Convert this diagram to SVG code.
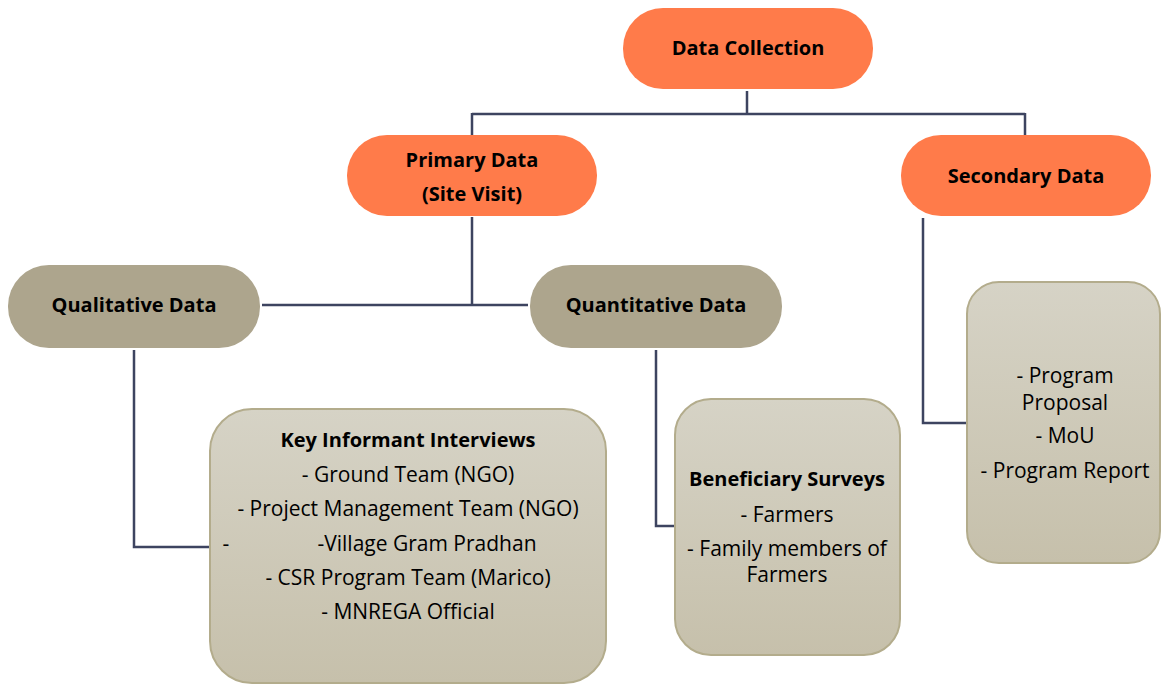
<svg xmlns="http://www.w3.org/2000/svg" width="1161" height="684" viewBox="0 0 1161 684">
<defs>
<linearGradient id="boxg" x1="0" y1="0" x2="0" y2="1">
<stop offset="0" stop-color="#D6D3C6"/>
<stop offset="1" stop-color="#C6C0AB"/>
</linearGradient>
<style>
text{font-family:"Open Sans",Lato,"Liberation Sans",sans-serif;font-size:21px;fill:#000;text-anchor:middle}
.b{font-weight:bold;font-size:20px}
.orange{fill:#FF7B4A}
.tan{fill:#ADA58D}
.box{fill:url(#boxg);stroke:#B3AC8C;stroke-width:2}
.conn{fill:none;stroke:#3D4460;stroke-width:2.5}
</style>
</defs>
<rect width="1161" height="684" fill="#fff"/>
<g id="connectors">
<path class="conn" d="M747 91V114M472 114H1025M472 113V135M1025 113V135"/>
<path class="conn" d="M472 217V305M262 305H528"/>
<path class="conn" d="M134 350V547H210"/>
<path class="conn" d="M656 350V526H675"/>
<path class="conn" d="M923 218V423H967"/>
</g>
<g id="data-collection">
<rect class="orange" x="623" y="8" width="250" height="81" rx="40"/>
<text class="b" x="748" y="55">Data Collection</text>
</g>
<g id="primary-data">
<rect class="orange" x="347" y="135" width="250" height="81" rx="40"/>
<text class="b" x="472" y="167">Primary Data</text>
<text class="b" x="472" y="201">(Site Visit)</text>
</g>
<g id="secondary-data">
<rect class="orange" x="901" y="135" width="250" height="81" rx="40"/>
<text class="b" x="1026" y="183">Secondary Data</text>
</g>
<g id="qualitative-data">
<rect class="tan" x="8" y="265" width="252" height="83" rx="41"/>
<text class="b" x="134" y="312">Qualitative Data</text>
</g>
<g id="quantitative-data">
<rect class="tan" x="530" y="265" width="252" height="83" rx="41"/>
<text class="b" x="656" y="312">Quantitative Data</text>
</g>
<g id="key-informant">
<rect class="box" x="210" y="409" width="396" height="274" rx="42"/>
<text class="b" x="408" y="447">Key Informant Interviews</text>
<text x="408" y="482">- Ground Team (NGO)</text>
<text x="408" y="516">- Project Management Team (NGO)</text>
<text x="226" y="551">-</text>
<text x="427" y="551">-Village Gram Pradhan</text>
<text x="408" y="585">- CSR Program Team (Marico)</text>
<text x="408" y="619">- MNREGA Official</text>
</g>
<g id="beneficiary">
<rect class="box" x="675" y="399" width="225" height="256" rx="36"/>
<text class="b" x="787" y="486">Beneficiary Surveys</text>
<text x="787" y="522">- Farmers</text>
<text x="787" y="556">- Family members of</text>
<text x="787" y="582">Farmers</text>
</g>
<g id="secondary-box">
<rect class="box" x="967" y="282" width="193" height="281" rx="32"/>
<text x="1065" y="383">- Program</text>
<text x="1065" y="410">Proposal</text>
<text x="1065" y="443">- MoU</text>
<text x="1065" y="478">- Program Report</text>
</g>
</svg>
